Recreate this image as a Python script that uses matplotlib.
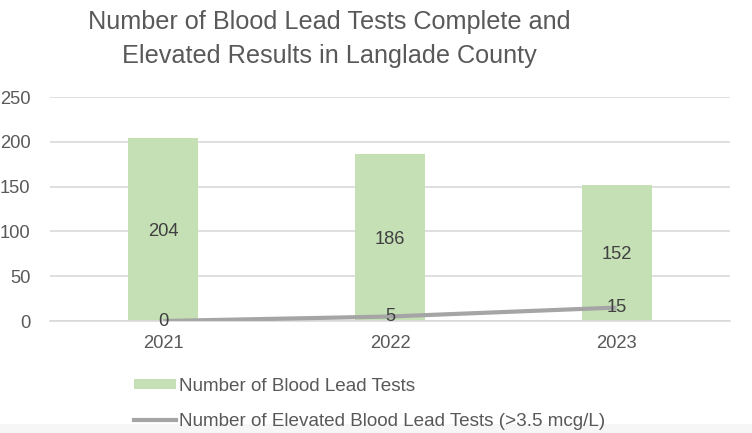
import matplotlib
matplotlib.use("Agg")
import matplotlib.pyplot as plt
from matplotlib.patches import Patch, Rectangle
from matplotlib.lines import Line2D

plt.rcParams['font.family'] = ['Liberation Sans', 'DejaVu Sans']

years = ["2021", "2022", "2023"]
tests = [204, 186, 152]
elevated = [0, 5, 15]
yticks = [0, 50, 100, 150, 200, 250]
title = "Number of Blood Lead Tests Complete and\nElevated Results in Langlade County"
bar_label = "Number of Blood Lead Tests"
line_label = "Number of Elevated Blood Lead Tests (>3.5 mcg/L)"

bar_color = "#c5e0b4"
line_color = "#a5a5a5"
text_color = "#595959"
label_color = "#404040"

fig = plt.figure(figsize=(7.52, 4.33), dpi=100)
ax = fig.add_axes([50/752, 1-321/433, 680/752, 224/433])

x = list(range(len(years)))
bars = ax.bar(x, tests, width=0.31, color=bar_color, zorder=2)
ax.plot(x, elevated, color=line_color, linewidth=3, solid_capstyle='butt', zorder=3)

for xi, v in zip(x, tests):
    ax.text(xi, v/2, str(v), ha='center', va='center_baseline', fontsize=13.2, color=label_color, zorder=4)
for xi, v in zip(x, elevated):
    ax.text(xi, v, str(v), ha='center', va='center', fontsize=13.2, color=label_color, zorder=4)

ax.set_xlim(-0.5, 2.5)
ax.set_ylim(0, 250)
ax.set_yticks(yticks)
ax.set_xticks(x)
ax.set_xticklabels(years)
ax.grid(axis='y', color='#d9d9d9', linewidth=1.2, zorder=0)
ax.set_axisbelow(True)
for s in ['top', 'right', 'left']:
    ax.spines[s].set_visible(False)
ax.spines['bottom'].set_color('#d9d9d9')
ax.spines['bottom'].set_linewidth(1.2)
ax.tick_params(axis='both', length=0, labelsize=13.2, labelcolor=text_color)
ax.tick_params(axis='y', pad=14)
ax.tick_params(axis='x', pad=10)

fig.text(0.4375, 1-39/433, title, ha='center', va='center', fontsize=18.2,
         color=text_color, linespacing=1.5)

handles = [Patch(facecolor=bar_color, edgecolor='none'),
           Line2D([0], [0], color=line_color, linewidth=3)]
leg = fig.legend(handles, [bar_label, line_label], loc='upper left',
                 bbox_to_anchor=(117/752, 1-361/433), frameon=False,
                 fontsize=13.6, labelcolor=text_color, handlelength=2.2,
                 handleheight=0.45, handletextpad=0.2, labelspacing=0.95)

fig.patches.append(Rectangle((0, 0), 1, 9/433, transform=fig.transFigure,
                             facecolor='#f6f6f6', edgecolor='none', zorder=5))

fig.savefig("out.png", dpi=100)
